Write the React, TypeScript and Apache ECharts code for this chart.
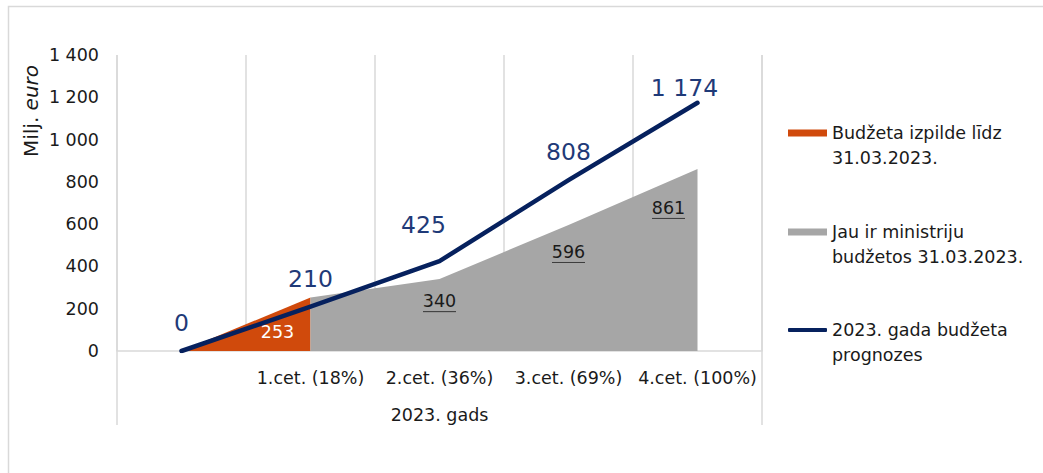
import React, { useEffect, useRef } from "react";
import * as echarts from "echarts";

const categories = ["", "1.cet. (18%)", "2.cet. (36%)", "3.cet. (69%)", "4.cet. (100%)"];
const executed = [0, 253, null, null, null];
const ministries = [null, 253, 340, 596, 861];
const forecast = [0, 210, 425, 808, 1174];
const yTicks = [0, 200, 400, 600, 800, 1000, 1200, 1400];

const NAME_EXEC = "Budžeta izpilde līdz 31.03.2023.";
const NAME_MIN = "Jau ir ministriju budžetos 31.03.2023.";
const NAME_FC = "2023. gada budžeta prognozes";
const legendLines: Record<string, string[]> = {
  [NAME_EXEC]: ["Budžeta izpilde līdz", "31.03.2023."],
  [NAME_MIN]: ["Jau ir ministriju", "budžetos 31.03.2023."],
  [NAME_FC]: ["2023. gada budžeta", "prognozes"],
};

const FONT = "DejaVu Sans";
const FS = 17.5;
const ORANGE = "#D04A0C";
const GREY = "#A6A6A6";
const NAVY = "#06215E";
const NAVY_TXT = "#1F3A78";
const GRID = "#D9D9D9";
const TXT = "#1a1a1a";

const fmt = (v: number) => String(v).replace(/\B(?=(\d{3})+(?!\d))/g, " ");

const fcOffsets: Record<number, number[]> = { 2: [-16, -8], 4: [-13, 13] };
const minOffsets: Record<number, number[]> = { 2: [0, 0], 3: [0, 5], 4: [-29, 17] };

export default function App() {
  const ref = useRef<HTMLDivElement>(null);
  useEffect(() => {
    const chart = echarts.init(ref.current!, null, { renderer: "svg" });
    const legendCommon = {
      orient: "vertical" as const,
      left: 788,
      padding: 0,
      itemGap: 0,
      itemWidth: 39,
      itemHeight: 7,
      icon: "rect",
      formatter: (n: string) => "{e| }\n{t|" + legendLines[n][0] + "}\n{t|" + legendLines[n][1] + "}",
      textStyle: {
        fontFamily: FONT,
        fontSize: FS,
        color: TXT,
        lineHeight: 25,
        rich: {
          e: { fontFamily: FONT, fontSize: FS, lineHeight: 25 },
          t: { fontFamily: FONT, fontSize: FS, color: TXT, lineHeight: 25 },
        },
      },
    };
    const option: any = {
      animation: false,
      grid: { left: 117, right: 1043 - 762, top: 55, bottom: 473 - 351 },
      legend: [
        { ...legendCommon, top: 133 - 37.5, data: [NAME_EXEC] },
        { ...legendCommon, top: 232 - 37.5, data: [NAME_MIN] },
        { ...legendCommon, top: 330 - 37.5, data: [NAME_FC], icon: "roundRect", itemHeight: 4 },
      ],
      xAxis: {
        type: "category",
        data: categories,
        boundaryGap: true,
        axisLine: { show: true, lineStyle: { color: GRID, width: 1.5 } },
        axisTick: { show: false },
        splitLine: { show: true, lineStyle: { color: GRID, width: 1.5 } },
        axisLabel: { fontFamily: FONT, fontSize: FS, color: TXT, margin: 18, interval: 0 },
        name: "2023. gads",
        nameLocation: "middle",
        nameGap: 55,
        nameTextStyle: { fontFamily: FONT, fontSize: FS, color: TXT },
      },
      yAxis: {
        type: "value",
        min: 0,
        max: 1400,
        interval: 200,
        axisLine: { show: false },
        axisTick: { show: false },
        splitLine: { show: false },
        axisLabel: {
          fontFamily: FONT,
          fontSize: FS,
          color: TXT,
          margin: 18,
          formatter: (v: number) => (yTicks.includes(v) ? fmt(v) : ""),
        },
      },
      series: [
        {
          name: NAME_EXEC,
          type: "line",
          data: executed.map((v, i) => ({
            value: v,
            label: {
              show: i === 1,
              position: "bottom",
              distance: 5,
              offset: [-33, 20],
              color: "#ffffff",
              fontFamily: FONT,
              fontSize: FS,
              formatter: (p: any) => fmt(p.value),
            },
          })),
          symbol: "circle",
          symbolSize: 0,
          showSymbol: true,
          lineStyle: { width: 0 },
          itemStyle: { color: ORANGE },
          areaStyle: { color: ORANGE, opacity: 1 },
          z: 2,
        },
        {
          name: NAME_MIN,
          type: "line",
          data: ministries.map((v, i) => ({
            value: v,
            label: {
              show: i >= 2,
              position: "bottom",
              distance: 12,
              offset: minOffsets[i] || [0, 0],
              fontFamily: FONT,
              fontSize: FS,
              color: TXT,
              formatter: (p: any) => "{v|" + fmt(p.value) + "}\n{u|}",
              rich: {
                v: { fontFamily: FONT, fontSize: FS, color: TXT, lineHeight: 20 },
                u: { borderColor: TXT, borderWidth: 0.5, width: 33, height: 0, lineHeight: 1 },
              },
            },
          })),
          symbol: "circle",
          symbolSize: 0,
          showSymbol: true,
          lineStyle: { width: 0 },
          itemStyle: { color: GREY },
          areaStyle: { color: GREY, opacity: 1 },
          z: 2,
        },
        {
          name: NAME_FC,
          type: "line",
          data: forecast.map((v, i) => ({
            value: v,
            label: {
              show: true,
              position: "top",
              distance: 16,
              offset: fcOffsets[i] || [0, 0],
              color: NAVY_TXT,
              fontFamily: FONT,
              fontSize: 23.5,
              formatter: (p: any) => fmt(p.value),
            },
          })),
          symbol: "circle",
          symbolSize: 0,
          showSymbol: true,
          lineStyle: { width: 4.5, color: NAVY, cap: "round", join: "round" },
          itemStyle: { color: NAVY },
          z: 5,
        },
      ],
    };
    chart.setOption(option);

    const [, y0] = chart.convertToPixel({ gridIndex: 0 }, [0, 0]) as number[];
    const gridRect = (chart as any).getModel().getComponent("grid", 0).coordinateSystem.getRect();
    const left = gridRect.x;
    const right = gridRect.x + gridRect.width;
    const top = gridRect.y;
    chart.setOption({
      graphic: [
        {
          type: "rect",
          shape: { x: 8.5, y: 6.5, width: 1100, height: 600 },
          style: { fill: "none", stroke: GRID, lineWidth: 1.5 },
          silent: true,
          z: -10,
        },
        {
          type: "line",
          shape: { x1: left, y1: top, x2: left, y2: y0 + 74 },
          style: { stroke: GRID, lineWidth: 1.5 },
          silent: true,
        },
        {
          type: "line",
          shape: { x1: right, y1: top, x2: right, y2: y0 + 74 },
          style: { stroke: GRID, lineWidth: 1.5 },
          silent: true,
        },
        {
          type: "text",
          x: 31,
          y: 111,
          rotation: Math.PI / 2,
          style: {
            text: "Milj. {i|euro}",
            fontFamily: FONT,
            fontSize: 20,
            fill: TXT,
            align: "center",
            verticalAlign: "middle",
            rich: { i: { fontStyle: "italic", fontFamily: FONT, fontSize: 20, fill: TXT } },
          },
        },
      ],
    });
    return () => chart.dispose();
  }, []);
  return (
    <div style={{ position: "absolute", left: 0, top: 0, width: 1043, height: 473, background: "#fff" }}>
      <div ref={ref} style={{ width: 1043, height: 473 }} />
    </div>
  );
}
